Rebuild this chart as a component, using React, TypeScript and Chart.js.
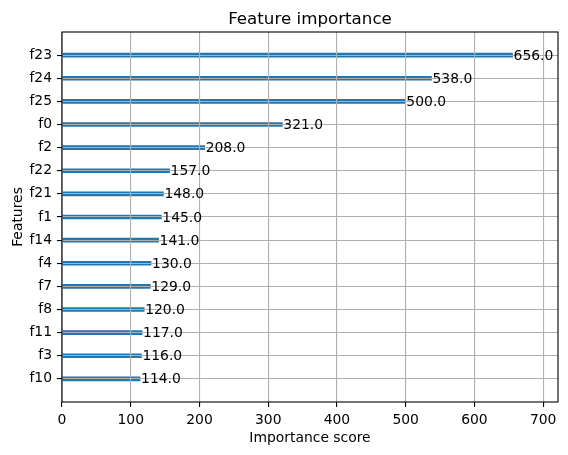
import React, { useEffect, useRef } from "react";
import { Chart, registerables } from "chart.js";

Chart.register(...registerables);

const features = ["f23", "f24", "f25", "f0", "f2", "f22", "f21", "f1", "f14", "f4", "f7", "f8", "f11", "f3", "f10"];
const scores = [656, 538, 500, 321, 208, 157, 148, 145, 141, 130, 129, 120, 117, 116, 114];
const xTicks = [0, 100, 200, 300, 400, 500, 600, 700];

const FONT = "DejaVu Sans";
const GRID = "#b0b0b0";
const BAR = "#1f77b4";

export default function App() {
  const ref = useRef<HTMLCanvasElement | null>(null);

  useEffect(() => {
    if (!ref.current) return;
    const n = features.length;
    const points = features.map((f, i) => ({ x: scores[i], y: n - 1 - i }));
    const xMax = Math.max(...scores) * 1.1;

    const overlay = {
      id: "overlay",
      afterDraw(chart: any) {
        const ctx = chart.ctx;
        const a = chart.chartArea;
        const xs = chart.scales.x;
        const ys = chart.scales.y;
        ctx.save();
        ctx.fillStyle = "#000";
        ctx.font = `13.9px "${FONT}"`;
        ctx.textAlign = "left";
        ctx.textBaseline = "middle";
        points.forEach((p) => {
          ctx.fillText(p.x.toFixed(1), xs.getPixelForValue(p.x + 1), ys.getPixelForValue(p.y) + 1);
        });
        ctx.strokeStyle = "#000";
        ctx.lineWidth = 1.1;
        ctx.strokeRect(a.left, a.top, a.right - a.left, a.bottom - a.top);
        ctx.font = `16.7px "${FONT}"`;
        ctx.textAlign = "center";
        ctx.textBaseline = "alphabetic";
        ctx.fillText("Feature importance", (a.left + a.right) / 2, a.top - 8.3);
        ctx.font = `13.9px "${FONT}"`;
        ctx.textBaseline = "middle";
        ctx.fillText("Importance score", (a.left + a.right) / 2, 438);
        ctx.translate(18, (a.top + a.bottom) / 2);
        ctx.rotate(-Math.PI / 2);
        ctx.fillText("Features", 0, 0);
        ctx.restore();
      },
    };

    const chart = new Chart(ref.current, {
      type: "bar",
      data: {
        datasets: [
          {
            data: points as any,
            backgroundColor: BAR,
            borderWidth: 0,
            barPercentage: 0.2,
            categoryPercentage: 1,
          },
        ],
      },
      options: {
        indexAxis: "y",
        responsive: false,
        animation: false,
        events: [],
        layout: { padding: { top: 32, right: 10, left: 0, bottom: 0 } },
        plugins: { legend: { display: false }, tooltip: { enabled: false }, title: { display: false } },
        scales: {
          x: {
            type: "linear",
            min: 0,
            max: xMax,
            z: 1,
            offset: false,
            afterFit: (s: any) => {
              s.height = 53;
            },
            afterBuildTicks: (s: any) => {
              s.ticks = xTicks.map((v) => ({ value: v }));
            },
            ticks: {
              color: "#000",
              font: { family: FONT, size: 13.9 },
              padding: 5,
              maxRotation: 0,
              autoSkip: false,
              callback: (v: any) => String(v),
            },
            grid: { z: 1, offset: false, color: GRID, lineWidth: 1.1, tickLength: 5, tickColor: "#000", tickWidth: 1.1 },
            border: { display: false },
          },
          y: {
            type: "linear",
            min: -1,
            max: n,
            z: 1,
            offset: false,
            afterFit: (s: any) => {
              s.width = 62;
            },
            afterBuildTicks: (s: any) => {
              s.ticks = features.map((_, i) => ({ value: i }));
            },
            ticks: {
              color: "#000",
              font: { family: FONT, size: 13.9 },
              padding: 5,
              autoSkip: false,
              callback: (v: any) => features[n - 1 - Number(v)] ?? "",
            },
            grid: { z: 1, offset: false, color: GRID, lineWidth: 1.1, tickLength: 5, tickColor: "#000", tickWidth: 1.1 },
            border: { display: false },
          },
        },
      },
      plugins: [overlay],
    } as any);
    return () => chart.destroy();
  }, []);

  return (
    <div style={{ position: "fixed", left: 0, top: 0, width: 568, height: 455, background: "#fff" }}>
      <canvas ref={ref} width={568} height={455} style={{ width: 568, height: 455 }} />
    </div>
  );
}
